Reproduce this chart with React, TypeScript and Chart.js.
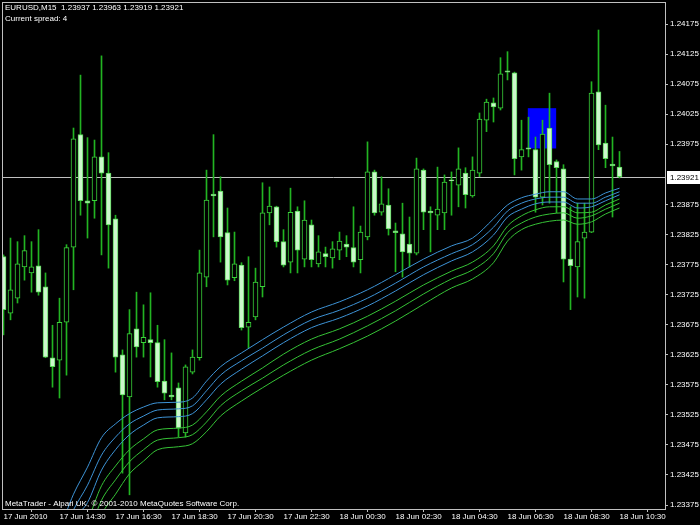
import React, { useEffect, useRef } from "react";
import { Chart, registerables } from "chart.js";

Chart.register(...registerables);

const HEADER = "EURUSD,M15  1.23937 1.23963 1.23919 1.23921";
const SPREAD_TEXT = "Current spread: 4";
const COPYRIGHT = "MetaTrader - Alpari UK, \u00a9 2001-2010 MetaQuotes Software Corp.";

const X_LABELS = [
  "17 Jun 2010", "17 Jun 14:30", "17 Jun 16:30", "17 Jun 18:30", "17 Jun 20:30", "17 Jun 22:30",
  "18 Jun 00:30", "18 Jun 02:30", "18 Jun 04:30", "18 Jun 06:30", "18 Jun 08:30", "18 Jun 10:30",
];
const X_LABEL_BARS = [0, 8, 16, 24, 32, 40, 48, 56, 64, 72, 80, 88];

const Y_TICKS = [
  1.23375, 1.23425, 1.23475, 1.23525, 1.23575, 1.23625, 1.23675, 1.23725, 1.23775,
  1.23825, 1.23875, 1.23975, 1.24025, 1.24075, 1.24125, 1.24175,
];

const OPEN = [
  1.23788, 1.23694, 1.23719, 1.23771, 1.23761, 1.23773, 1.23738, 1.2362, 1.23616, 1.23679,
  1.23804, 1.23991, 1.23881, 1.23881, 1.23954, 1.23927, 1.23851, 1.23625, 1.23555, 1.23668,
  1.23645, 1.2365, 1.23645, 1.23581, 1.23558, 1.2357, 1.23495, 1.23596, 1.2362, 1.23754,
  1.23892, 1.23897, 1.23828, 1.23753, 1.23774, 1.23671, 1.23688, 1.23738, 1.23861, 1.23871,
  1.23813, 1.23779, 1.23864, 1.23784, 1.23841, 1.23776, 1.23793, 1.23786, 1.23799, 1.23809,
  1.23803, 1.23783, 1.23821, 1.23929, 1.23862, 1.23874, 1.23831, 1.23826, 1.23809, 1.23794,
  1.23932, 1.23864, 1.23857, 1.23861, 1.23916, 1.23907, 1.23927, 1.23889, 1.23927, 1.24015,
  1.24044, 1.24035, 1.24097, 1.24094, 1.23954, 1.23969, 1.23966, 1.23887, 1.24002, 1.23946,
  1.23934, 1.23784, 1.23771, 1.23819, 1.23829, 1.24062, 1.23977, 1.23942, 1.23937,
];
const HIGH = [
  1.23791, 1.23819, 1.23813, 1.23823, 1.23813, 1.23833, 1.23761, 1.23674, 1.23719, 1.23808,
  1.24002, 1.2409, 1.23986, 1.23982, 1.24122, 1.23961, 1.23857, 1.23633, 1.237, 1.23729,
  1.23708, 1.23728, 1.23674, 1.2365, 1.23628, 1.23578, 1.23608, 1.23633, 1.23799, 1.23932,
  1.23991, 1.23921, 1.23869, 1.23829, 1.23778, 1.23788, 1.23769, 1.23911, 1.23904, 1.23872,
  1.23833, 1.23902, 1.23871, 1.23881, 1.23849, 1.23823, 1.23804, 1.23813, 1.23829, 1.23823,
  1.23871, 1.23839, 1.23979, 1.23932, 1.23921, 1.23901, 1.23844, 1.23877, 1.23854, 1.23952,
  1.23934, 1.23871, 1.23937, 1.23924, 1.23929, 1.23969, 1.23936, 1.23954, 1.24027, 1.2405,
  1.24052, 1.24119, 1.24129, 1.24095, 1.24015, 1.2402, 1.23987, 1.24015, 1.2406, 1.23949,
  1.23941, 1.23871, 1.23877, 1.23877, 1.24079, 1.24165, 1.2404, 1.23987, 1.23963,
];
const LOW = [
  1.23658, 1.23683, 1.23711, 1.23749, 1.23729, 1.23724, 1.2362, 1.23571, 1.23553, 1.23591,
  1.23733, 1.23857, 1.23819, 1.23852, 1.23791, 1.23769, 1.23596, 1.23428, 1.23392, 1.23621,
  1.23621, 1.23588, 1.23571, 1.2355, 1.2355, 1.23488, 1.23488, 1.23593, 1.23616, 1.23738,
  1.23821, 1.23779, 1.23741, 1.23748, 1.23666, 1.23636, 1.23683, 1.23721, 1.23841, 1.23804,
  1.23771, 1.23761, 1.23761, 1.23771, 1.23771, 1.23771, 1.23771, 1.23769, 1.23783, 1.23788,
  1.23771, 1.23761, 1.23816, 1.23857, 1.23857, 1.23824, 1.23763, 1.23754, 1.23771, 1.23791,
  1.23833, 1.23796, 1.23833, 1.23833, 1.23857, 1.23871, 1.23869, 1.23887, 1.23921, 1.23996,
  1.24012, 1.24032, 1.24082, 1.23924, 1.23932, 1.23954, 1.23862, 1.23874, 1.23877, 1.23861,
  1.23746, 1.237, 1.23721, 1.23719, 1.23828, 1.23966, 1.23936, 1.23854, 1.23919,
];
const CLOSE = [
  1.237, 1.23733, 1.23776, 1.23798, 1.23771, 1.23729, 1.23621, 1.23605, 1.23679, 1.23803,
  1.23984, 1.23881, 1.23877, 1.23954, 1.23927, 1.23841, 1.23621, 1.23558, 1.2366, 1.23638,
  1.23654, 1.23645, 1.2358, 1.23561, 1.23555, 1.23503, 1.23605, 1.23621, 1.23761, 1.23882,
  1.23889, 1.23821, 1.23749, 1.23776, 1.2367, 1.23679, 1.23746, 1.23861, 1.23872, 1.23813,
  1.23774, 1.23862, 1.23799, 1.23849, 1.23783, 1.23796, 1.23788, 1.23801, 1.23814, 1.23804,
  1.23779, 1.23829, 1.23929, 1.23861, 1.23876, 1.23834, 1.23828, 1.23796, 1.23794, 1.23934,
  1.23862, 1.23861, 1.23867, 1.23912, 1.23914, 1.23934, 1.23891, 1.23932, 1.24017, 1.24045,
  1.24037, 1.24092, 1.24095, 1.23951, 1.23966, 1.23967, 1.23887, 1.23992, 1.23941, 1.23936,
  1.23784, 1.23773, 1.23813, 1.23829, 1.2406, 1.23974, 1.23951, 1.23939, 1.23921,
];

const MA_X = [9, 10, 12, 14, 16, 18, 20, 22, 25, 27, 29, 31, 34, 37, 40, 44, 48, 52, 56, 60, 64, 67, 70, 72, 74, 76, 78, 80, 82, 84, 86, 88];
const MA_BLUE_1 = [1.23364, 1.23393, 1.23438, 1.23487, 1.2351, 1.23527, 1.23538, 1.23545, 1.23546, 1.23553, 1.23581, 1.23605, 1.23628, 1.2365, 1.23671, 1.23696, 1.23713, 1.23733, 1.23758, 1.23784, 1.23806, 1.23819, 1.23851, 1.23874, 1.23886, 1.23892, 1.23896, 1.23896, 1.23884, 1.23884, 1.23894, 1.23902];
const MA_BLUE_2 = [1.2334, 1.23367, 1.23408, 1.23458, 1.23488, 1.2351, 1.23523, 1.23533, 1.23535, 1.2354, 1.23565, 1.23591, 1.23615, 1.23636, 1.23658, 1.23683, 1.23699, 1.23719, 1.23744, 1.23771, 1.23793, 1.23808, 1.23837, 1.23864, 1.23877, 1.23884, 1.23887, 1.23887, 1.23877, 1.23877, 1.23887, 1.23896];
const MA_BLUE_3 = [1.2332, 1.2335, 1.23379, 1.23433, 1.23467, 1.23492, 1.23508, 1.2352, 1.23522, 1.23527, 1.2355, 1.23576, 1.23601, 1.23623, 1.23645, 1.2367, 1.23686, 1.23706, 1.23731, 1.23758, 1.23781, 1.23796, 1.23824, 1.23854, 1.23867, 1.23876, 1.23879, 1.23879, 1.23869, 1.23871, 1.23881, 1.23891];
const MA_GREEN_1 = [1.233, 1.2332, 1.2335, 1.23407, 1.2344, 1.23467, 1.23485, 1.235, 1.23503, 1.23508, 1.2353, 1.23556, 1.23581, 1.23603, 1.23626, 1.23651, 1.23668, 1.23689, 1.23714, 1.23741, 1.23764, 1.23779, 1.23806, 1.23839, 1.23856, 1.23866, 1.23871, 1.23871, 1.23861, 1.23862, 1.23874, 1.23884];
const MA_GREEN_2 = [1.2328, 1.233, 1.23325, 1.23383, 1.23417, 1.23447, 1.23467, 1.23483, 1.23487, 1.23492, 1.23513, 1.2354, 1.23565, 1.23586, 1.23608, 1.23633, 1.23651, 1.23673, 1.23698, 1.23726, 1.23751, 1.23766, 1.23793, 1.23828, 1.23844, 1.23854, 1.23859, 1.23861, 1.23852, 1.23856, 1.23867, 1.23877];
const MA_GREEN_3 = [1.2326, 1.2328, 1.233, 1.23359, 1.23393, 1.23427, 1.23448, 1.23467, 1.23472, 1.23477, 1.23497, 1.23523, 1.23548, 1.2357, 1.23591, 1.23616, 1.23635, 1.23656, 1.23681, 1.23709, 1.23736, 1.23751, 1.23778, 1.23814, 1.23833, 1.23842, 1.23847, 1.23849, 1.23842, 1.23846, 1.23859, 1.23869];

const BID = 1.23921;
const RECT_BARS = [74.9, 78.95];
const RECT_PRICES = [1.23968, 1.24035];

const X_MIN = -0.2143;
const X_MAX = 94.5;
const Y_MIN = 1.233684;
const Y_MAX = 1.242116;

const FONT = '"Liberation Sans", Arial, sans-serif';
const AXIS_COLOR = "#c0c0c0";
const WICK = "#22b422";
const BULL_BORDER = "#3ad23a";
const BEAR_FILL = "#ccf7cc";
const BEAR_BORDER = "#5ad85a";
const BLUE = "#3d93d6";
const GREEN = "#36c236";

const overlayPlugin = {
  id: "mtOverlay",
  beforeDatasetsDraw(chart: any) {
    const { ctx, chartArea, scales } = chart;
    const x = scales.x;
    const y = scales.y;
    ctx.save();
    ctx.beginPath();
    ctx.rect(chartArea.left, chartArea.top, chartArea.right - chartArea.left, chartArea.bottom - chartArea.top);
    ctx.clip();
    const x0 = x.getPixelForValue(RECT_BARS[0]);
    const x1 = x.getPixelForValue(RECT_BARS[1]);
    const y0 = y.getPixelForValue(RECT_PRICES[1]);
    const y1 = y.getPixelForValue(RECT_PRICES[0]);
    ctx.fillStyle = "#0000ff";
    ctx.fillRect(x0, y0, x1 - x0, y1 - y0);
    const by = Math.round(y.getPixelForValue(BID)) + 0.5;
    ctx.strokeStyle = "#c0c0c0";
    ctx.lineWidth = 1;
    ctx.beginPath();
    ctx.moveTo(chartArea.left, by);
    ctx.lineTo(chartArea.right, by);
    ctx.stroke();
    ctx.restore();
  },
  afterDraw(chart: any) {
    const { ctx, chartArea, scales } = chart;
    const y = scales.y;
    ctx.save();
    ctx.strokeStyle = AXIS_COLOR;
    ctx.lineWidth = 1;
    ctx.strokeRect(chartArea.left + 0.5, chartArea.top + 0.5, chartArea.right - chartArea.left, chartArea.bottom - chartArea.top);
    ctx.font = `8px ${FONT}`;
    ctx.fillStyle = "#ffffff";
    ctx.textBaseline = "alphabetic";
    ctx.textAlign = "left";
    ctx.fillText(HEADER, 5, 10);
    ctx.fillText(SPREAD_TEXT, 5, 21);
    ctx.fillText(COPYRIGHT, 5, 506);
    const by = Math.round(y.getPixelForValue(BID));
    ctx.fillStyle = "#ffffff";
    ctx.fillRect(chartArea.right + 2, by - 6, 700 - chartArea.right - 2, 13);
    ctx.fillStyle = "#000000";
    ctx.textBaseline = "middle";
    ctx.fillText(BID.toFixed(5), chartArea.right + 5, by + 1);
    ctx.restore();
  },
};

export default function App() {
  const canvasRef = useRef<HTMLCanvasElement | null>(null);

  useEffect(() => {
    document.body.style.margin = "0";
    document.body.style.background = "#000";
    const canvas = canvasRef.current;
    if (!canvas) return;

    const isBull = (i: number) => CLOSE[i] >= OPEN[i];
    const maLine = (values: number[], color: string) => ({
      type: "line" as const,
      data: MA_X.map((x, j) => ({ x, y: values[j] })),
      borderColor: color,
      borderWidth: 1,
      pointRadius: 0,
      fill: false,
      cubicInterpolationMode: "monotone" as const,
      order: 0,
    });

    const chart = new Chart(canvas, {
      type: "bar",
      data: {
        datasets: [
          maLine(MA_BLUE_1, BLUE),
          maLine(MA_BLUE_2, BLUE),
          maLine(MA_BLUE_3, BLUE),
          maLine(MA_GREEN_1, GREEN),
          maLine(MA_GREEN_2, GREEN),
          maLine(MA_GREEN_3, GREEN),
          {
            type: "bar" as const,
            data: OPEN.map((o, i) => ({ x: i, y: [o, CLOSE[i]] })) as any,
            barThickness: 5,
            grouped: false,
            minBarLength: 1,
            borderWidth: 1,
            borderSkipped: false,
            backgroundColor: (c: any) => (isBull(c.dataIndex) ? "#000000" : BEAR_FILL),
            borderColor: (c: any) => (isBull(c.dataIndex) ? BULL_BORDER : BEAR_BORDER),
            order: 1,
          },
          {
            type: "bar" as const,
            data: LOW.map((l, i) => ({ x: i, y: [l, HIGH[i]] })) as any,
            barThickness: 1,
            grouped: false,
            borderWidth: 0,
            backgroundColor: WICK,
            order: 2,
          },
        ],
      },
      options: {
        responsive: false,
        animation: false,
        events: [],
        layout: { padding: { left: 2, top: 2, right: 0, bottom: 0 } },
        plugins: { legend: { display: false }, tooltip: { enabled: false } },
        scales: {
          x: {
            type: "linear",
            min: X_MIN,
            max: X_MAX,
            offset: false,
            afterBuildTicks: (s: any) => {
              s.ticks = X_LABEL_BARS.map((v) => ({ value: v }));
            },
            afterFit: (s: any) => {
              s.height = 16;
              s.paddingLeft = 0;
              s.paddingRight = 0;
            },
            ticks: {
              autoSkip: false,
              maxRotation: 0,
              minRotation: 0,
              align: "start",
              padding: 0,
              color: "#ffffff",
              font: { family: FONT, size: 8 },
              callback: (v: any) => {
                const k = X_LABEL_BARS.indexOf(Number(v));
                return k >= 0 ? X_LABELS[k] : "";
              },
            },
            grid: { display: true, drawOnChartArea: false, drawTicks: true, tickLength: 3, color: AXIS_COLOR },
            border: { display: false },
          },
          y: {
            type: "linear",
            position: "right",
            min: Y_MIN,
            max: Y_MAX,
            afterBuildTicks: (s: any) => {
              s.ticks = Y_TICKS.map((v) => ({ value: v }));
            },
            afterFit: (s: any) => {
              s.width = 35;
              s.paddingTop = 0;
              s.paddingBottom = 0;
            },
            ticks: {
              autoSkip: false,
              padding: 2,
              color: "#ffffff",
              font: { family: FONT, size: 8 },
              callback: (v: any) => Number(v).toFixed(5),
            },
            grid: { display: true, drawOnChartArea: false, drawTicks: true, tickLength: 3, color: AXIS_COLOR },
            border: { display: false },
          },
        },
      } as any,
      plugins: [overlayPlugin],
    });

    return () => chart.destroy();
  }, []);

  return (
    <div style={{ position: "absolute", left: 0, top: 0, width: 700, height: 525, background: "#000" }}>
      <canvas ref={canvasRef} width={700} height={525} />
    </div>
  );
}
